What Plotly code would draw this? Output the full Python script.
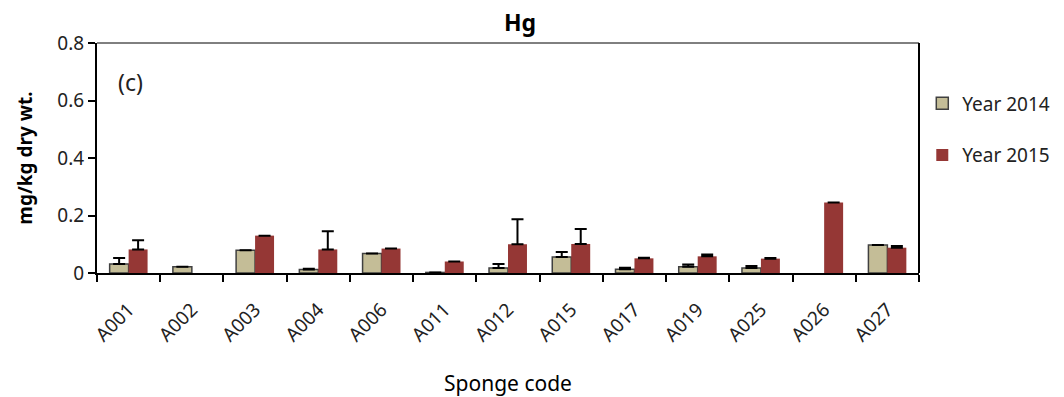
import plotly.graph_objects as go

codes = ["A001", "A002", "A003", "A004", "A006", "A011", "A012", "A015",
         "A017", "A019", "A025", "A026", "A027"]
y2014 = [0.031, 0.022, 0.079, 0.012, 0.068, 0.002, 0.017, 0.056,
         0.013, 0.022, 0.017, None, 0.097]
err2014 = [0.021, 0, 0, 0.003, 0, 0, 0.014, 0.017,
           0.005, 0.008, 0.007, 0, 0]
y2015 = [0.082, None, 0.130, 0.082, 0.085, 0.040, 0.100, 0.101,
         0.051, 0.058, 0.050, 0.245, 0.088]
err2015 = [0.032, 0, 0, 0.063, 0, 0, 0.087, 0.052,
           0.002, 0.006, 0.002, 0, 0.006]

FONT = "Noto Sans"
zeros = [0] * len(codes)

fig = go.Figure()
fig.add_trace(go.Bar(
    x=codes, y=y2014, name="Year 2014", legendgroup="a",
    marker=dict(color="#C4BD97", line=dict(color="#404040", width=1.5)),
    error_y=dict(type="data", symmetric=False, array=err2014, arrayminus=zeros,
                 color="black", thickness=2, width=6),
))
fig.add_trace(go.Bar(
    x=codes, y=y2015, name="Year 2015", legendgroup="b",
    marker=dict(color="#953735", line=dict(width=0)),
    error_y=dict(type="data", symmetric=False, array=err2015, arrayminus=zeros,
                 color="black", thickness=2, width=6),
))

fig.update_layout(
    width=1064, height=397,
    margin=dict(l=97, r=145, t=43, b=124, autoexpand=False),
    paper_bgcolor="white", plot_bgcolor="white",
    barmode="group", bargap=0.4, bargroupgap=0,
    font=dict(family=FONT, color="black"),
    legend=dict(x=1.004, y=0.82, xanchor="left", yanchor="top",
                font=dict(size=19, family=FONT, color="#222"),
                traceorder="grouped", tracegroupgap=24,
                bgcolor="rgba(0,0,0,0)"),
    showlegend=True,
)
fig.update_xaxes(
    type="category", showline=True, linecolor="black", linewidth=2,
    ticks="outside", tickson="boundaries", ticklen=7, tickwidth=2, tickcolor="black",
    tickangle=-45, tickfont=dict(size=19, family=FONT, color="#222"),
    ticklabelstandoff=16,
    title=dict(text="Sponge code", font=dict(size=21, family=FONT), standoff=30),
    showgrid=False, mirror=False,
)
fig.update_yaxes(
    range=[0, 0.8], tickvals=[0, 0.2, 0.4, 0.6, 0.8],
    ticktext=["0", "0.2", "0.4", "0.6", "0.8"],
    showline=True, linecolor="black", linewidth=2,
    ticks="outside", ticklen=7, tickwidth=2, tickcolor="black",
    tickfont=dict(size=19, family=FONT, color="#222"),
    title=dict(text="<b>mg/kg dry wt.</b>", font=dict(size=19, family=FONT), standoff=20),
    showgrid=False, zeroline=False,
)
# thin frame on top and right
fig.add_shape(type="line", xref="paper", yref="paper", x0=0, x1=1, y0=1, y1=1,
              line=dict(color="black", width=1))
fig.add_shape(type="line", xref="paper", yref="paper", x0=1, x1=1, y0=0, y1=1,
              line=dict(color="black", width=2))
fig.add_annotation(text="<b>Hg</b>", xref="paper", yref="paper", x=0.515, y=1.09,
                   xanchor="center", yanchor="middle", showarrow=False,
                   font=dict(size=23, family=FONT, color="black"))
fig.add_annotation(text="(c)", xref="paper", yref="paper", x=0.023, y=0.83,
                   xanchor="left", yanchor="middle", showarrow=False,
                   font=dict(size=23, family=FONT, color="#222"))

fig.write_html("out.html")
